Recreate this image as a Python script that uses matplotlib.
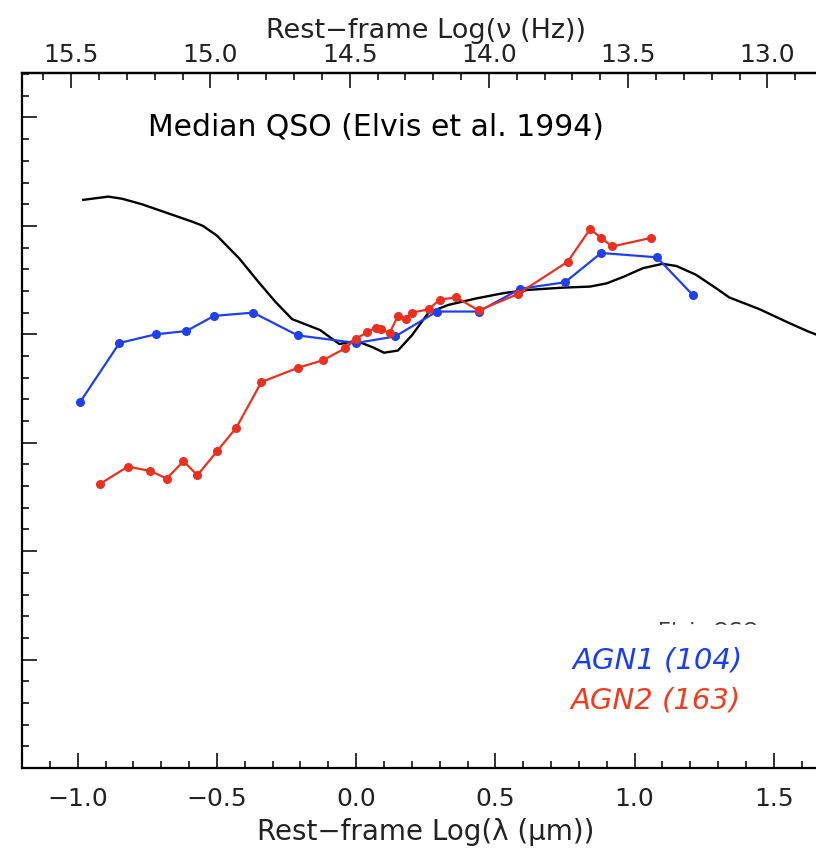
import matplotlib
matplotlib.use("Agg")
import matplotlib.pyplot as plt
from matplotlib.ticker import MultipleLocator, NullFormatter
from matplotlib.patches import Rectangle

# Elvis et al. 1994 median QSO SED (log lambda [um], log nuLnu arbitrary)
qso_x = [-0.98, -0.89, -0.84, -0.77, -0.68, -0.59, -0.55, -0.50, -0.42,
         -0.35, -0.29, -0.23, -0.13, -0.06, 0.00, 0.06, 0.10, 0.15, 0.20,
         0.26, 0.33, 0.43, 0.53, 0.62, 0.74, 0.84, 0.90, 0.96, 1.03,
         1.10, 1.15, 1.22, 1.29, 1.34, 1.45, 1.55, 1.62, 1.66]
qso_y = [5.24, 5.27, 5.25, 5.20, 5.12, 5.04, 5.00, 4.91, 4.70,
         4.48, 4.30, 4.14, 4.04, 3.91, 3.94, 3.88, 3.83, 3.85, 3.99,
         4.20, 4.27, 4.33, 4.38, 4.41, 4.43, 4.44, 4.47, 4.53, 4.61,
         4.65, 4.63, 4.55, 4.43, 4.34, 4.23, 4.11, 4.03, 3.99]

agn1_x = [-0.99, -0.85, -0.72, -0.61, -0.51, -0.37, -0.21, 0.00, 0.14,
          0.29, 0.44, 0.59, 0.75, 0.88, 1.08, 1.21]
agn1_y = [3.38, 3.92, 4.00, 4.03, 4.17, 4.20, 3.99, 3.92, 3.98,
          4.21, 4.21, 4.42, 4.48, 4.75, 4.71, 4.36]

agn2_x = [-0.92, -0.82, -0.74, -0.68, -0.62, -0.57, -0.50, -0.43, -0.34,
          -0.21, -0.12, -0.04, 0.00, 0.04, 0.07, 0.09, 0.12, 0.15, 0.18,
          0.20, 0.26, 0.30, 0.36, 0.44, 0.58, 0.76, 0.84, 0.88, 0.92, 1.06]
agn2_y = [2.62, 2.78, 2.74, 2.67, 2.83, 2.70, 2.92, 3.14, 3.56,
          3.69, 3.76, 3.87, 3.96, 4.02, 4.06, 4.05, 4.01, 4.17, 4.14,
          4.20, 4.23, 4.32, 4.34, 4.22, 4.37, 4.67, 4.97, 4.89, 4.81, 4.89]

lam_ticks = [-1.0, -0.5, 0.0, 0.5, 1.0, 1.5]
lam_labels = ["−1.0", "−0.5", "0.0", "0.5", "1.0", "1.5"]
nu_ticks = [15.5, 15.0, 14.5, 14.0, 13.5, 13.0]
nu_labels = ["15.5", "15.0", "14.5", "14.0", "13.5", "13.0"]

W, H = 816, 849
fig = plt.figure(figsize=(W / 100, H / 100), dpi=100)
ax = fig.add_axes([22 / W, (H - 768) / H, (829.5 - 22) / W, 695 / H])

ax.plot(qso_x, qso_y, color="black", lw=1.7, zorder=2)
ax.plot(agn1_x, agn1_y, color="#1f3ff0", lw=1.6, marker="o", ms=5.5, zorder=3)
ax.plot(agn2_x, agn2_y, color="#eb3020", lw=1.6, marker="o", ms=5.5, zorder=4)

ax.set_xlim(-1.2, 1.7)
ax.set_ylim(0, 6.41)

ax.spines["right"].set_visible(False)
for s in ["left", "bottom", "top"]:
    ax.spines[s].set_linewidth(1.6)

ax.xaxis.set_minor_locator(MultipleLocator(0.1))
ax.yaxis.set_major_locator(MultipleLocator(1))
ax.yaxis.set_minor_locator(MultipleLocator(0.2))
ax.yaxis.set_major_formatter(NullFormatter())
ax.tick_params(which="both", direction="in", top=False, right=False,
               width=1.3, colors="#222222")
ax.tick_params(which="major", length=11)
ax.tick_params(which="minor", length=5)
ax.tick_params(axis="x", labelsize=18, pad=14)
ax.set_xticks(lam_ticks)
ax.set_xticklabels(lam_labels)
ax.set_xlabel("Rest−frame Log(λ (μm))", fontsize=20, labelpad=5,
              color="#222222")

sec = ax.secondary_xaxis("top", functions=(lambda x: 14.4768 - x,
                                           lambda n: 14.4768 - n))
sec.set_xticks(nu_ticks)
sec.set_xticklabels(nu_labels)
sec.xaxis.set_minor_locator(MultipleLocator(0.1))
sec.tick_params(which="both", direction="in", width=1.3, colors="#222222")
sec.tick_params(which="major", length=11, labelsize=18, pad=4)
sec.tick_params(which="minor", length=5)
sec.set_xlabel("Rest−frame Log(ν (Hz))", fontsize=19.5, labelpad=4,
               color="#222222")
sec.spines["top"].set_linewidth(1.6)

ax.text(148 / W, 1 - 127 / H, "Median QSO (Elvis et al. 1994)",
        transform=fig.transFigure, fontsize=21.5, va="center", ha="left")

# partly hidden label from the original figure
fig.text(658 / W, 1 - 638 / H, "Elvis QSO", fontsize=15, color="#333333",
         va="baseline", ha="left")
fig.patches.append(Rectangle((640 / W, 1 - 650 / H), 170 / W, 25 / H,
                             transform=fig.transFigure, color="white",
                             zorder=5))

fig.text(573 / W, 1 - 661 / H, "AGN1 (104)", fontsize=21, color="#1a3ef5",
         style="italic", va="center", ha="left", zorder=6)
fig.text(571 / W, 1 - 700 / H, "AGN2 (163)", fontsize=21, color="#f03c1c",
         style="italic", va="center", ha="left", zorder=6)

fig.savefig("out.png", dpi=100)
